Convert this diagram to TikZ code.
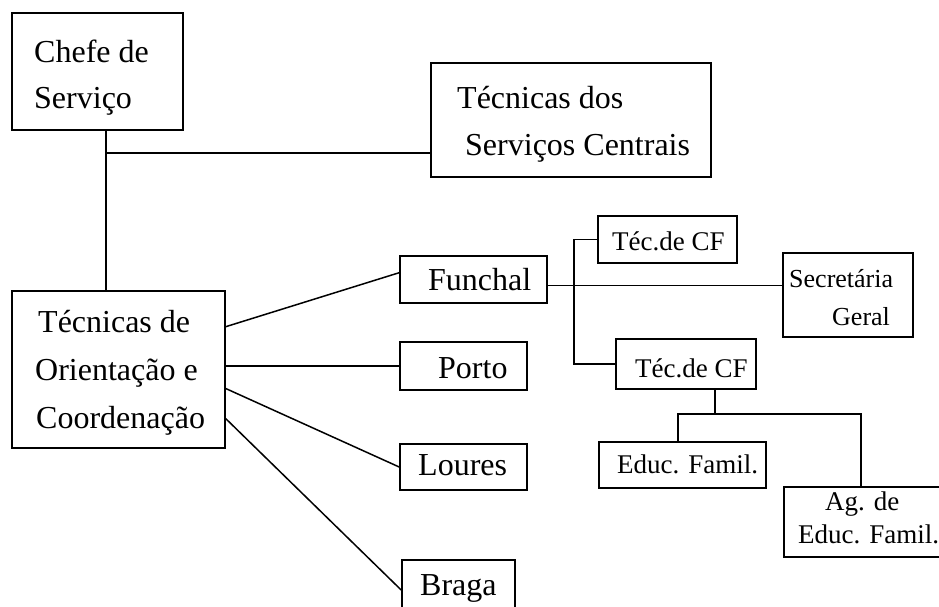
\documentclass[tikz,border=0pt]{standalone}
\usepackage{fontspec}
\setmainfont{Liberation Serif}
\usetikzlibrary{calc}
\begin{document}
\begin{tikzpicture}[x=1pt,y=-1pt,
  box/.style={draw,line width=1.6pt,rectangle,inner sep=0pt},
  conn/.style={line width=1.5pt},
  big/.style={anchor=base west,inner sep=0pt,font=\fontsize{32}{38}\selectfont},
  small/.style={anchor=base west,inner sep=0pt,font=\fontsize{27}{32}\selectfont},
  tiny/.style={anchor=base west,inner sep=0pt,font=\fontsize{26}{31}\selectfont}]
\useasboundingbox (0,0) rectangle (939,606);
% boxes
\node[box,minimum width=171pt,minimum height=117pt] (chefe) at (97.5,71.5) {};
\node[box,minimum width=280pt,minimum height=114pt] (tds) at (571,120) {};
\node[box,minimum width=213pt,minimum height=157pt] (orient) at (118.5,369.5) {};
\node[box,minimum width=147pt,minimum height=47pt] (funchal) at (473.5,279.5) {};
\node[box,minimum width=127pt,minimum height=48pt] (porto) at (463.5,366) {};
\node[box,minimum width=127pt,minimum height=46pt] (loures) at (463.5,467) {};
\node[box,minimum width=113pt,minimum height=60pt] (braga) at (458.5,590) {};
\node[box,minimum width=139pt,minimum height=47pt] (tcfa) at (667.5,239.5) {};
\node[box,minimum width=130pt,minimum height=84pt] (secr) at (848,295) {};
\node[box,minimum width=140pt,minimum height=50pt] (tcfb) at (686,364) {};
\node[box,minimum width=167pt,minimum height=46pt] (educ) at (682.5,465) {};
\node[box,minimum width=176pt,minimum height=70pt] (ag) at (872,522) {};
% texts
\node[big] (t1) at (34,62) {Chefe de};
\node[big] (t2) at (34,108) {Serviço};
\node[big] (t3) at (457,108) {Técnicas dos};
\node[big] (t4) at (465,155) {Serviços Centrais};
\node[big] (t5) at (38,332) {Técnicas de};
\node[big] (t6) at (35,380) {Orientação e};
\node[big] (t7) at (36,428) {Coordenação};
\node[big] (t8) at (428,290) {Funchal};
\node[big] (t9) at (438,378) {Porto};
\node[big] (t10) at (418,475) {Loures};
\node[big] (t11) at (420,595) {Braga};
\node[small] (t12) at (612,250) {Téc.de CF};
\node[tiny] (t13) at (789,287) {Secretária};
\node[tiny] (t14) at (832,325) {Geral};
\node[small] (t15) at (635,377) {Téc.de CF};
\node[small] (t16) at (617,473) {Educ. Famil.};
\node[small] (t17) at (825,510) {Ag. de};
\node[small] (t18) at (798,543) {Educ. Famil.};
% junction coordinates
\coordinate (j1) at (106,153);
\coordinate (bx) at (574,0);
\coordinate (j2) at (715,414);
\coordinate (j3) at (678,414);
\coordinate (j4) at (861,414);
% connectors
\draw[conn] (chefe.south -| j1) -- (orient.north -| j1);
\draw[conn] (j1) -- (tds.west |- j1);
\draw[conn] ($(orient.north east)!0.23!(orient.south east)$) -- ($(funchal.north west)!0.36!(funchal.south west)$);
\draw[conn] (orient.east |- porto.west) -- (porto.west);
\draw[conn] ($(orient.north east)!0.62!(orient.south east)$) -- (loures.west);
\draw[conn] ($(orient.north east)!0.81!(orient.south east)$) -- (braga.west);
\draw[conn] ($(funchal.north east)!0.62!(funchal.south east)$) coordinate (f1) -- (secr.west |- f1);
\draw[conn] (tcfa.west) -- (tcfa.west -| bx) -- (tcfb.west -| bx) -- (tcfb.west);
\draw[conn] (tcfb.south -| j2) -- (j2);
\draw[conn] (educ.north -| j3) -- (j3) -- (j4) -- (ag.north -| j4);
\end{tikzpicture}
\end{document}
